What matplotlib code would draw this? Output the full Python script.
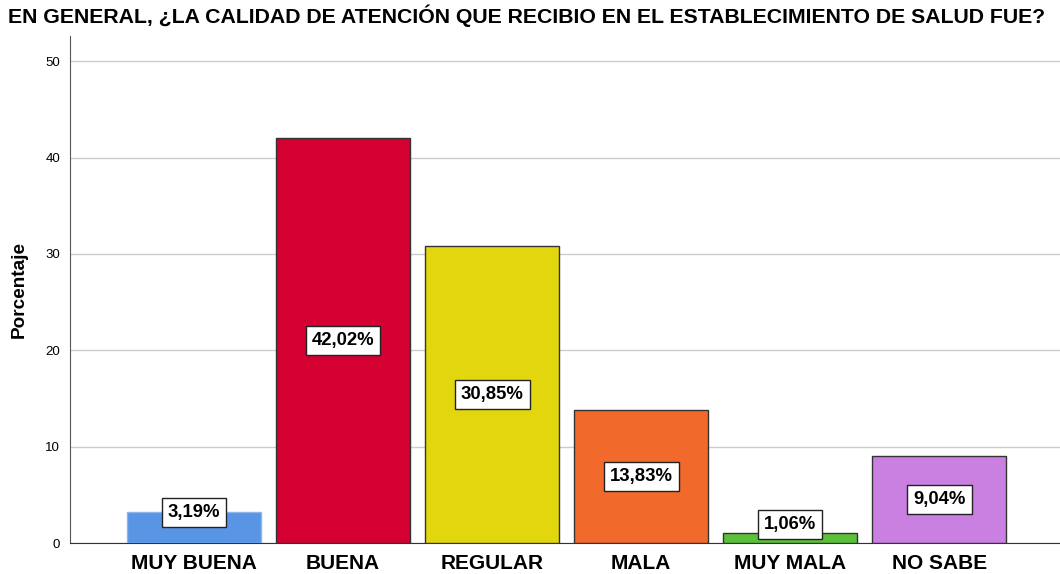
import matplotlib
matplotlib.use("Agg")
import matplotlib.pyplot as plt

categories = ["MUY BUENA", "BUENA", "REGULAR", "MALA", "MUY MALA", "NO SABE"]
values = [3.19, 42.02, 30.85, 13.83, 1.06, 9.04]
labels = ["3,19%", "42,02%", "30,85%", "13,83%", "1,06%", "9,04%"]
colors = ["#5895E5", "#D50032", "#E2D70F", "#F2692C", "#5CC13A", "#CA80E1"]
edgecolors = ["#8FB5EA", "#333333", "#333333", "#333333", "#333333", "#333333"]
yticks = [0, 10, 20, 30, 40, 50]

plt.rcParams['font.family'] = ['Liberation Sans', 'DejaVu Sans']

fig = plt.figure(figsize=(10.6, 5.74), dpi=100)
ax = fig.add_axes([0.066, 0.054, 0.934, 0.883])

x = list(range(len(categories)))
ax.bar(x, values, width=0.9, color=colors, edgecolor=edgecolors, linewidth=1.0, zorder=3)

for xi, v, lab in zip(x, values, labels):
    if v / 2 > 3:
        y, va = v / 2, "center"
    elif v > 2:
        y, va = v, "center"
    else:
        y, va = v, "bottom"
    ax.text(xi, y, lab, ha="center", va=va, fontsize=13.3, fontweight="bold", zorder=5,
            bbox=dict(boxstyle="square,pad=0.33", facecolor="white", edgecolor="#222222", linewidth=1.0))

ax.set_xlim(-0.832, 5.81)
ax.set_ylim(0, 52.6)
ax.set_yticks(yticks)
ax.set_yticklabels([str(t) for t in yticks], fontsize=9.5)
ax.set_xticks(x)
ax.set_xticklabels(categories, fontsize=15, fontweight="bold")
ax.tick_params(axis="both", length=0)
ax.tick_params(axis="y", pad=7)
ax.tick_params(axis="x", pad=8)
ax.yaxis.grid(True, color="#CCCCCC", linewidth=1.0, zorder=0)
ax.set_axisbelow(True)
for s in ["top", "right"]:
    ax.spines[s].set_visible(False)
ax.spines["left"].set_color("#555555")
ax.spines["bottom"].set_color("#333333")
ax.set_ylabel("Porcentaje", fontsize=13.7, fontweight="bold", labelpad=13)

fig.text(0.008, 0.972, "EN GENERAL, ¿LA CALIDAD DE ATENCIÓN QUE RECIBIO EN EL ESTABLECIMIENTO DE SALUD FUE?",
         ha="left", va="center", fontsize=15.3, fontweight="bold")

fig.savefig("out.png", dpi=100)
